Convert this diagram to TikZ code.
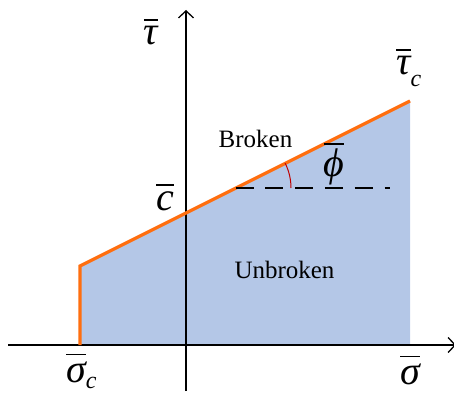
\documentclass[tikz,border=0pt]{standalone}
\usepackage{fontspec}
\setmainfont{Liberation Serif}
\usetikzlibrary{arrows.meta,calc}
\definecolor{fillblue}{RGB}{180,199,231}
\definecolor{lineorange}{RGB}{255,110,15}
\definecolor{arcred}{RGB}{192,0,0}
\newcommand\ovl[2]{\vbox{\hrule height 1.8pt\kern #1\hbox{#2}}}
\newcommand\gsize{\fontsize{40}{40}\selectfont\itshape}
\newcommand\ssize{\fontsize{24}{24}\selectfont\itshape}
\newcommand\tsize{\fontsize{25}{25}\selectfont}
\begin{document}
\begin{tikzpicture}[x=1pt,y=-1pt,
  axis/.style={line width=1.3pt,-{Straight Barb[length=7pt,width=15pt,line width=1.3pt]}},
  orangeline/.style={lineorange,line width=3.2pt,line join=miter},
  dashline/.style={line width=2.4pt,dash pattern=on 18pt off 11.8pt},
  lbl/.style={inner sep=0pt,anchor=base}]
\useasboundingbox (0,0) rectangle (454,393);
% key points
\coordinate (sc) at (80,345);
\coordinate (kink) at (80,266);
\coordinate (tc) at (410,101);
\coordinate (bot) at (410,345);
\coordinate (dstart) at (235.5,188);
\coordinate (dend) at (390,188);
% region
\fill[fillblue] (sc) -- (kink) -- (tc) -- (bot) -- cycle;
% axes
\coordinate (xa) at (8,345);
\coordinate (xb) at (456,345);
\coordinate (ya) at (186,391);
\coordinate (yb) at (186,10);
\draw[axis] (xa) -- (xb);
\draw[axis] (ya) -- (yb);
% failure envelope
\draw[orangeline] (sc) -- (kink) -- (tc);
% dashed horizontal
\draw[dashline] (dstart) -- (dend);
% angle arc
\draw[arcred,line width=1pt] ($(dstart)+(55.5,0)$) arc[start angle=0,end angle=-26.6,radius=55.5];
% labels
\node[lbl] (ltau) at (151,45) {\gsize\ovl{6pt}{τ}};
\node[lbl,anchor=base west] (ltauc) at (396,75) {\gsize\ovl{6pt}{τ}\kern0pt\raisebox{-11pt}{\ssize c}};
\node[lbl] (lc) at (165,210) {\gsize\ovl{5pt}{c}};
\node[lbl,anchor=base west] (lsigc) at (66,382) {\gsize\ovl{6pt}{σ}\kern0pt\raisebox{-6pt}{\ssize c}};
\node[lbl] (lsig) at (410,384) {\gsize\ovl{6pt}{σ}};
\node[lbl] (lphi) at (334,176) {\gsize\ovl{3pt}{ϕ}};
\node[lbl] (lbroken) at (255.5,147) {\tsize Broken};
\node[lbl] (lunbroken) at (284.5,278) {\tsize Unbroken};
\end{tikzpicture}
\end{document}
